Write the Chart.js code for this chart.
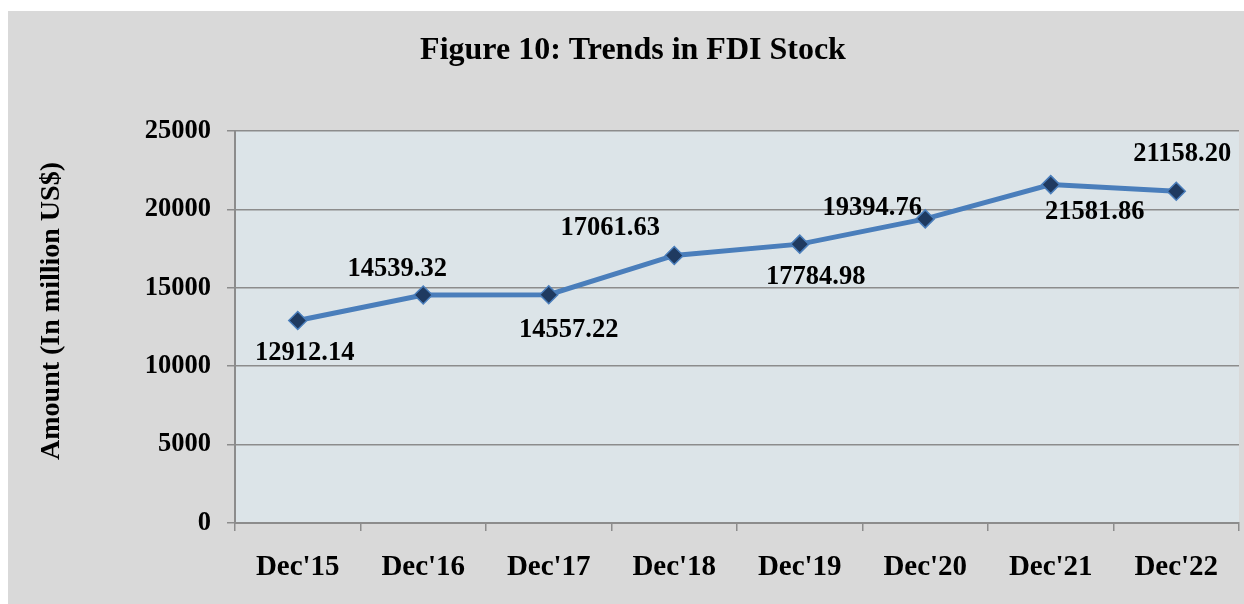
<!DOCTYPE html>
<html>
<head>
<meta charset="utf-8">
<script src="https://cdn.jsdelivr.net/npm/chart.js@4.4.0/dist/chart.umd.min.js"></script>
<style>
  html, body { margin: 0; padding: 0; background: #ffffff; }
  canvas { display: block; }
</style>
</head>
<body>
<canvas id="c" width="1244" height="604" style="width:1244px;height:604px"></canvas>
<script>
const categories = ["Dec'15", "Dec'16", "Dec'17", "Dec'18", "Dec'19", "Dec'20", "Dec'21", "Dec'22"];
const fdiStock = [12912.14, 14539.32, 14557.22, 17061.63, 17784.98, 19394.76, 21581.86, 21158.20];
const valueLabels = ["12912.14", "14539.32", "14557.22", "17061.63", "17784.98", "19394.76", "21581.86", "21158.20"];
const yTicks = [0, 5000, 10000, 15000, 20000, 25000];
const chartTitle = "Figure 10: Trends in FDI Stock";
const yAxisTitle = "Amount (In million US$)";

const SERIF = '"Liberation Serif", "Times New Roman", serif';
// label offsets relative to each point (px)
const labelOffsets = [[7, 33], [-26, -26], [20, 35], [-64, -27], [16, 33], [-53, -11], [44, 28], [6, -37]];

const decorPlugin = {
  id: 'decor',
  beforeDraw(chart) {
    const ctx = chart.ctx;
    const a = chart.chartArea;
    ctx.save();
    ctx.fillStyle = '#ffffff';
    ctx.fillRect(0, 0, chart.width, chart.height);
    ctx.fillStyle = '#d9d9d9';
    ctx.fillRect(8, 11, chart.width - 8, chart.height - 11);
    ctx.fillStyle = '#dce4e8';
    ctx.fillRect(a.left, a.top, a.right - a.left, a.bottom - a.top);
    ctx.restore();
  },
  afterDraw(chart) {
    const ctx = chart.ctx;
    ctx.save();
    ctx.fillStyle = '#000000';
    ctx.textAlign = 'center';
    ctx.textBaseline = 'middle';
    ctx.font = 'bold 32px ' + SERIF;
    ctx.fillText(chartTitle, 633, 51);
    ctx.translate(52, 311);
    ctx.rotate(-Math.PI / 2);
    ctx.font = 'bold 28px ' + SERIF;
    ctx.fillText(yAxisTitle, 0, 0);
    ctx.restore();
  },
  afterDatasetsDraw(chart) {
    const ctx = chart.ctx;
    const meta = chart.getDatasetMeta(0);
    ctx.save();
    ctx.fillStyle = '#000000';
    ctx.textAlign = 'center';
    ctx.textBaseline = 'middle';
    ctx.font = 'bold 26.5px ' + SERIF;
    meta.data.forEach((pt, i) => {
      const o = labelOffsets[i];
      ctx.fillText(valueLabels[i], pt.x + o[0], pt.y + o[1]);
    });
    ctx.restore();
  }
};

new Chart(document.getElementById('c'), {
  type: 'line',
  data: {
    labels: categories,
    datasets: [{
      data: fdiStock,
      borderColor: '#4a7ebb',
      borderWidth: 5,
      pointStyle: 'rectRot',
      pointRadius: 9,
      pointBackgroundColor: '#1f3a60',
      pointBorderColor: '#4a7ebb',
      pointBorderWidth: 1.5,
      tension: 0,
      fill: false
    }]
  },
  options: {
    responsive: false,
    animation: false,
    devicePixelRatio: 1,
    layout: { autoPadding: false, padding: { left: 8, top: 131, right: 5, bottom: 0 } },
    plugins: {
      legend: { display: false },
      title: { display: false },
      tooltip: { enabled: false }
    },
    scales: {
      x: {
        offset: true,
        grid: {
          offset: true,
          drawOnChartArea: false,
          drawTicks: true,
          tickLength: 8,
          color: '#8c8c8c',
          lineWidth: 1.5
        },
        border: { display: true, color: '#8c8c8c', width: 2 },
        ticks: {
          color: '#000000',
          font: { family: SERIF, size: 29, weight: 'bold' },
          padding: 19,
          maxRotation: 0
        },
        afterFit(scale) {
          scale.height = 81;
          scale.paddingLeft = 0;
          scale.paddingRight = 0;
        }
      },
      y: {
        min: 0,
        max: 25000,
        afterBuildTicks(scale) { scale.ticks = yTicks.map(v => ({ value: v })); },
        grid: {
          drawTicks: true,
          tickLength: 8,
          color: '#8c8c8c',
          lineWidth: 1.5
        },
        border: { display: true, color: '#8c8c8c', width: 2 },
        ticks: {
          color: '#000000',
          font: { family: SERIF, size: 26.5, weight: 'bold' },
          padding: 16,
          callback: (v) => String(v)
        },
        afterFit(scale) {
          scale.width = 227;
          scale.paddingTop = 0;
          scale.paddingBottom = 0;
        }
      }
    }
  },
  plugins: [decorPlugin]
});
</script>
</body>
</html>
